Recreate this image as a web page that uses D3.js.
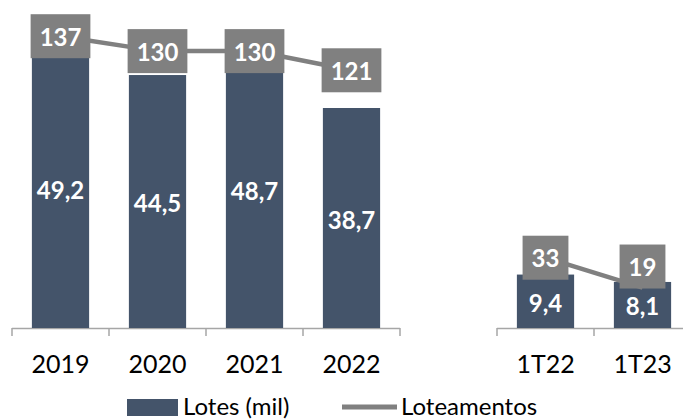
<!DOCTYPE html>
<html>
<head>
<meta charset="utf-8">
<script src="https://cdn.jsdelivr.net/npm/d3@7"></script>
<style>
  body { margin: 0; background: #fff; }
  text { font-family: Lato, "Open Sans", sans-serif; }
</style>
</head>
<body>
<div id="chart"></div>
<script>
// Data
let yearCats = ["2019", "2020", "2021", "2022"];
let yearLotes = [49.2, 44.5, 48.7, 38.7];
let yearLoteamentos = [137, 130, 130, 121];

let quarterCats = ["1T22", "1T23"];
let quarterLotes = [9.4, 8.1];
let quarterLoteamentos = [33, 19];

let legendLabels = ["Lotes (mil)", "Loteamentos"];

// Sizes
let svgWidth = 683;
let svgHeight = 419;
let baseY = 328;

let barColor = "#44546a";
let lineColor = "#808080";
let axisColor = "#a6a6a6";

let svg = d3.select("#chart")
    .append("svg")
    .attr("width", svgWidth)
    .attr("height", svgHeight);

// Scales (both groups share the same y scales)
let yBar = d3.scaleLinear().domain([0, 57.7]).range([baseY, 0]);
let yLine = d3.scaleLinear().domain([0, 154]).range([baseY, 0]);

let xYear = d3.scaleBand().domain(yearCats).range([12, 400]).paddingInner(0.41).paddingOuter(0.205);
let xQuarter = d3.scaleBand().domain(quarterCats).range([497, 691]).paddingInner(0.41).paddingOuter(0.205);

function drawGroup(xScale, cats, lotes, lotea, labelShift) {
    let data = cats.map((c, i) => ({ cat: c, lotes: lotes[i], lotea: lotea[i], shift: labelShift[i] || 0 }));
    let g = svg.append("g");

    // axis line + ticks between categories
    let r = xScale.range();
    let step = xScale.step();
    g.append("line")
        .attr("x1", r[0]).attr("x2", r[1])
        .attr("y1", baseY + 0.5).attr("y2", baseY + 0.5)
        .attr("stroke", axisColor)
        .attr("stroke-width", 1.5);
    g.selectAll(".tick")
        .data(d3.range(cats.length + 1))
        .join("line")
        .attr("x1", i => r[0] + i * step).attr("x2", i => r[0] + i * step)
        .attr("y1", baseY).attr("y2", baseY + 8)
        .attr("stroke", axisColor)
        .attr("stroke-width", 1.5);

    // category labels
    g.append("g")
        .attr("transform", `translate(0, ${baseY})`)
        .call(d3.axisBottom(xScale).tickSize(0).tickPadding(0))
        .call(a => a.select(".domain").remove())
        .selectAll("text")
        .attr("y", 36)
        .attr("dy", "0.35em")
        .attr("font-size", 25)
        .attr("fill", "#000")
        .style("font-family", "Lato");

    // bars
    g.selectAll(".bar")
        .data(data)
        .join("rect")
        .attr("x", d => xScale(d.cat))
        .attr("y", d => yBar(d.lotes))
        .attr("width", xScale.bandwidth())
        .attr("height", d => baseY - yBar(d.lotes))
        .attr("fill", barColor);

    // bar values
    g.selectAll(".barLabel")
        .data(data)
        .join("text")
        .attr("x", d => xScale(d.cat) + xScale.bandwidth() / 2)
        .attr("y", d => (yBar(d.lotes) + baseY) / 2 + 1)
        .attr("text-anchor", "middle")
        .attr("dominant-baseline", "central")
        .attr("font-size", 24)
        .attr("font-weight", "bold")
        .attr("fill", "#fff")
        .text(d => d3.format(".1f")(d.lotes).replace(".", ","));

    // line
    let line = d3.line()
        .x(d => xScale(d.cat) + xScale.bandwidth() / 2)
        .y(d => yLine(d.lotea));
    g.append("path")
        .datum(data)
        .attr("d", line)
        .attr("fill", "none")
        .attr("stroke", lineColor)
        .attr("stroke-width", 4.5);

    // line value boxes
    let boxes = g.selectAll(".box")
        .data(data)
        .join("g")
        .attr("transform", d => `translate(${xScale(d.cat) + xScale.bandwidth() / 2}, ${yLine(d.lotea) + d.shift})`);
    let labels = boxes.append("text")
        .attr("text-anchor", "middle")
        .attr("dominant-baseline", "central")
        .attr("font-size", 24)
        .attr("font-weight", "bold")
        .attr("fill", "#fff")
        .text(d => d.lotea);
    labels.each(function() {
        let w = this.getComputedTextLength();
        d3.select(this.parentNode).insert("rect", "text")
            .attr("x", -w / 2 - 9)
            .attr("y", -22)
            .attr("width", w + 18)
            .attr("height", 44)
            .attr("fill", lineColor);
    });
}

drawGroup(xYear, yearCats, yearLotes, yearLoteamentos, []);
drawGroup(xQuarter, quarterCats, quarterLotes, quarterLoteamentos, [0, -21]);

// Legend
let legend = svg.append("g");
legend.append("rect")
    .attr("x", 127).attr("y", 399)
    .attr("width", 51).attr("height", 17)
    .attr("fill", barColor);
legend.append("text")
    .attr("x", 183).attr("y", 405)
    .attr("dominant-baseline", "central")
    .attr("font-size", 24)
    .text(legendLabels[0]);
legend.append("line")
    .attr("x1", 342).attr("x2", 397)
    .attr("y1", 407).attr("y2", 407)
    .attr("stroke", lineColor)
    .attr("stroke-width", 5);
legend.append("text")
    .attr("x", 401).attr("y", 405)
    .attr("dominant-baseline", "central")
    .attr("font-size", 24)
    .text(legendLabels[1]);
</script>
</body>
</html>
